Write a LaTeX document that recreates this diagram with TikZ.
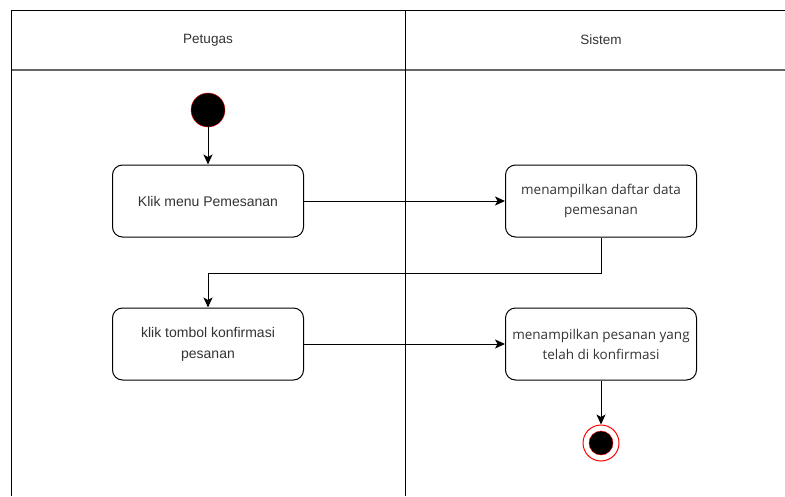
\documentclass[tikz,border=0pt]{standalone}
\usepackage{fontspec}
\setmainfont{Liberation Sans}
\newfontfamily\boxfont{Open Sans}
\usepackage{tikz}
\usetikzlibrary{arrows.meta}

\definecolor{textgray}{RGB}{51,51,51}
\tikzset{
	aksi/.style={draw, line width=1pt, rounded corners=10pt, minimum width=191pt, minimum height=72pt, align=center, text=textgray, font=\fontsize{14}{21}\selectfont},
	aksikanan/.style={aksi, font=\boxfont\fontsize{13.5}{20}\selectfont},
	awal/.style={circle, fill=black, draw=red, minimum size=34pt, inner sep=0pt},
	akhir/.style={circle, fill=black, draw=red, minimum size=24pt, inner sep=0pt},
	panah/.style={-{Stealth[length=10pt,width=9pt,inset=2.5pt]}, line width=1pt}
}

\begin{document}
\begin{tikzpicture}[x=1pt,y=-1pt]
\useasboundingbox (0,0) rectangle (785,496);
	% kolom
	\draw[line width=1pt] (11,10) -- (785,10);
	\draw[color=black!60, line width=2pt] (11,70) -- (785,70);
	\draw[line width=1pt] (11,10) -- (11,496);
	\draw[line width=1pt] (405,10) -- (405,496);
	\node[text=textgray, font=\fontsize{13.5}{16}\selectfont] (petugas) at (208,40) {Petugas};
	\node[text=textgray, font=\fontsize{13.5}{16}\selectfont] (sistem) at (601,40) {Sistem};
	%
	\node[awal] (mulai) at (208,110) {};
	\node[aksi] (klik) at (208,201) {Klik menu Pemesanan};
	\node[aksikanan] (daftar) at (601,201) {menampilkan daftar data\\pemesanan};
	\node[aksi] (konfirm) at (208,344) {klik tombol konfirmasi\\pesanan};
	\node[aksikanan] (tampil) at (601,344) {menampilkan pesanan yang\\telah di konfirmasi};
	\node[circle, draw=red, line width=1pt, minimum size=36pt, inner sep=0pt] (selesai) at (601,443) {};
	\node[akhir] (selesai-isi) at (601,443) {};
	%
	\draw[panah] (mulai) -- (klik);
	\draw[panah] (klik) -- (daftar);
	\draw[panah] (daftar.south) |- (208,273) -- (konfirm.north);
	\draw[panah] (konfirm) -- (tampil);
	\draw[panah] (tampil) -- (selesai);
\end{tikzpicture}
\end{document}
